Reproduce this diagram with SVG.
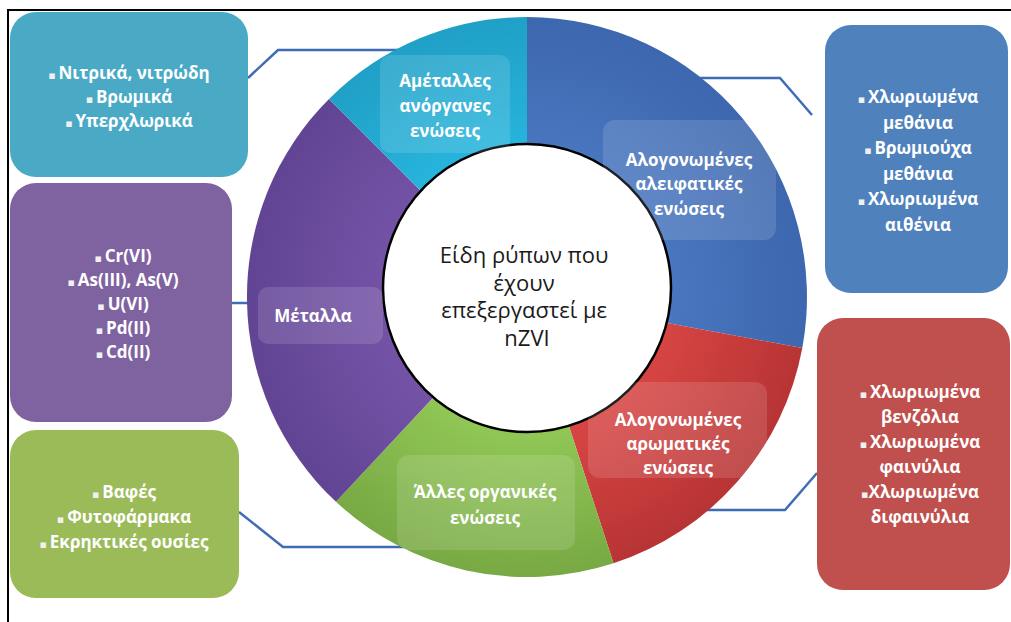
<svg xmlns="http://www.w3.org/2000/svg" width="1011" height="622" viewBox="0 0 1011 622">
  <style>
    .box-text { font-family: "Open Sans", "Noto Sans", "DejaVu Sans", sans-serif; font-size: 17px; font-weight: bold; fill: #ffffff; text-anchor: middle; }
    .lbl-text { font-family: "Open Sans", "Noto Sans", "DejaVu Sans", sans-serif; font-size: 17px; font-weight: bold; fill: #ffffff; text-anchor: middle; }
    .center-text { font-family: "Open Sans", "Noto Sans", "DejaVu Sans", sans-serif; font-size: 22px; fill: #1a1a1a; text-anchor: middle; }
    .bullet { font-size: 11px; fill: #f0f0f0; }
    .lbl-box { fill: #ffffff; fill-opacity: 0.13; }
    .conn { fill: none; stroke: #3f6db5; stroke-width: 2.5; }
  </style>
  <defs>
    <radialGradient id="gBlue" gradientUnits="userSpaceOnUse" cx="527" cy="297" r="280">
      <stop offset="0.5" stop-color="#4977c0"/>
      <stop offset="1" stop-color="#3d67ae"/>
    </radialGradient>
    <radialGradient id="gRed" gradientUnits="userSpaceOnUse" cx="527" cy="297" r="280">
      <stop offset="0.5" stop-color="#d64543"/>
      <stop offset="1" stop-color="#b83434"/>
    </radialGradient>
    <radialGradient id="gGreen" gradientUnits="userSpaceOnUse" cx="527" cy="297" r="280">
      <stop offset="0.5" stop-color="#90c655"/>
      <stop offset="1" stop-color="#78a944"/>
    </radialGradient>
    <radialGradient id="gPurple" gradientUnits="userSpaceOnUse" cx="527" cy="297" r="280">
      <stop offset="0.5" stop-color="#7453a6"/>
      <stop offset="1" stop-color="#614493"/>
    </radialGradient>
    <radialGradient id="gCyan" gradientUnits="userSpaceOnUse" cx="527" cy="297" r="280">
      <stop offset="0.5" stop-color="#27b6de"/>
      <stop offset="1" stop-color="#20a0c6"/>
    </radialGradient>
  </defs>

  <rect x="0" y="0" width="1011" height="622" fill="#ffffff"/>
  <!-- outer frame -->
  <rect x="8" y="10" width="1010" height="620" fill="none" stroke="#000000" stroke-width="2"/>

  <!-- connectors from category boxes to the ring -->
  <g id="connectors">
    <polyline class="conn" points="248,78 278,50 400,50"/>
    <polyline class="conn" points="695,78 780,78 812,115"/>
    <polyline class="conn" points="232,303 252,303"/>
    <polyline class="conn" points="239,512 283,547 410,547"/>
    <polyline class="conn" points="817,473 785,510 700,510"/>
  </g>

  <!-- ring of categories -->
  <g id="ring">
    <path d="M527,297 L527,17 A280,280 0 0 1 802.3,348 Z" fill="url(#gBlue)"/>
    <path d="M527,297 L802.3,348 A280,280 0 0 1 613.5,563.3 Z" fill="url(#gRed)"/>
    <path d="M527,297 L613.5,563.3 A280,280 0 0 1 336,501.8 Z" fill="url(#gGreen)"/>
    <path d="M527,297 L336,501.8 A280,280 0 0 1 329,99 Z" fill="url(#gPurple)"/>
    <path d="M527,297 L329,99 A280,280 0 0 1 527,17 Z" fill="url(#gCyan)"/>
  </g>

  <!-- central circle -->
  <g id="center">
    <circle cx="527" cy="288" r="144" fill="#ffffff" stroke="#000000" stroke-width="2.5"/>
    <text class="center-text" x="527" y="263">
      <tspan x="527" dy="0">Είδη ρύπων που</tspan>
      <tspan x="527" dy="27.5">έχουν</tspan>
      <tspan x="527" dy="27.5">επεξεργαστεί με</tspan>
      <tspan x="527" dy="27.5">nZVI</tspan>
    </text>
  </g>

  <!-- ring labels -->
  <g id="label-nonmetal">
    <rect class="lbl-box" x="380" y="55" width="130" height="98" rx="10"/>
    <text class="lbl-text" x="445" y="87">Αμέταλλες</text>
    <text class="lbl-text" x="445" y="112">ανόργανες</text>
    <text class="lbl-text" x="445" y="137">ενώσεις</text>
  </g>
  <g id="label-aliphatic">
    <rect class="lbl-box" x="603" y="120" width="173" height="120" rx="12"/>
    <text class="lbl-text" x="689" y="166">Αλογονωμένες</text>
    <text class="lbl-text" x="689" y="190">αλειφατικές</text>
    <text class="lbl-text" x="689" y="215">ενώσεις</text>
  </g>
  <g id="label-aromatic">
    <rect class="lbl-box" x="588" y="382" width="179" height="96" rx="12"/>
    <text class="lbl-text" x="678" y="426">Αλογονωμένες</text>
    <text class="lbl-text" x="678" y="450">αρωματικές</text>
    <text class="lbl-text" x="678" y="474">ενώσεις</text>
  </g>
  <g id="label-organic">
    <rect class="lbl-box" x="397" y="455" width="178" height="95" rx="12"/>
    <text class="lbl-text" x="485" y="498">Άλλες οργανικές</text>
    <text class="lbl-text" x="485" y="524">ενώσεις</text>
  </g>
  <g id="label-metals">
    <rect class="lbl-box" x="258" y="287" width="125" height="57" rx="10"/>
    <text class="lbl-text" x="313" y="322">Μέταλλα</text>
  </g>

  <!-- detail boxes -->
  <g id="box-nonmetal">
    <rect x="10" y="12" width="238" height="165" rx="26" fill="#4aaac6"/>
    <text class="box-text" x="129" y="79"><tspan class="bullet">▪ </tspan>Νιτρικά, νιτρώδη</text>
    <text class="box-text" x="129" y="103"><tspan class="bullet">▪ </tspan>Βρωμικά</text>
    <text class="box-text" x="129" y="127"><tspan class="bullet">▪ </tspan>Υπερχλωρικά</text>
  </g>
  <g id="box-metals">
    <rect x="10" y="183" width="222" height="239" rx="26" fill="#7f63a1"/>
    <text class="box-text" x="123" y="262"><tspan class="bullet">▪ </tspan>Cr(VI)</text>
    <text class="box-text" x="123" y="286"><tspan class="bullet">▪ </tspan>As(III), As(V)</text>
    <text class="box-text" x="123" y="310"><tspan class="bullet">▪ </tspan>U(VI)</text>
    <text class="box-text" x="123" y="334"><tspan class="bullet">▪ </tspan>Pd(II)</text>
    <text class="box-text" x="123" y="358"><tspan class="bullet">▪ </tspan>Cd(II)</text>
  </g>
  <g id="box-organic">
    <rect x="10" y="430" width="229" height="168" rx="26" fill="#9bbb59"/>
    <text class="box-text" x="124" y="498"><tspan class="bullet">▪ </tspan>Βαφές</text>
    <text class="box-text" x="124" y="523"><tspan class="bullet">▪ </tspan>Φυτοφάρμακα</text>
    <text class="box-text" x="124" y="548"><tspan class="bullet">▪ </tspan>Εκρηκτικές ουσίες</text>
  </g>
  <g id="box-aliphatic">
    <rect x="825" y="25" width="183" height="268" rx="26" fill="#4f81bd"/>
    <text class="box-text" x="918" y="103"><tspan class="bullet">▪ </tspan>Χλωριωμένα</text>
    <text class="box-text" x="918" y="129">μεθάνια</text>
    <text class="box-text" x="918" y="154"><tspan class="bullet">▪ </tspan>Βρωμιούχα</text>
    <text class="box-text" x="918" y="180">μεθάνια</text>
    <text class="box-text" x="918" y="205"><tspan class="bullet">▪ </tspan>Χλωριωμένα</text>
    <text class="box-text" x="918" y="231">αιθένια</text>
  </g>
  <g id="box-aromatic">
    <rect x="817" y="318" width="193" height="272" rx="26" fill="#c0504d"/>
    <text class="box-text" x="920" y="398"><tspan class="bullet">▪ </tspan>Χλωριωμένα</text>
    <text class="box-text" x="920" y="423">βενζόλια</text>
    <text class="box-text" x="920" y="448"><tspan class="bullet">▪ </tspan>Χλωριωμένα</text>
    <text class="box-text" x="920" y="473">φαινύλια</text>
    <text class="box-text" x="920" y="498"><tspan class="bullet">▪</tspan>Χλωριωμένα</text>
    <text class="box-text" x="920" y="523">διφαινύλια</text>
  </g>
</svg>
